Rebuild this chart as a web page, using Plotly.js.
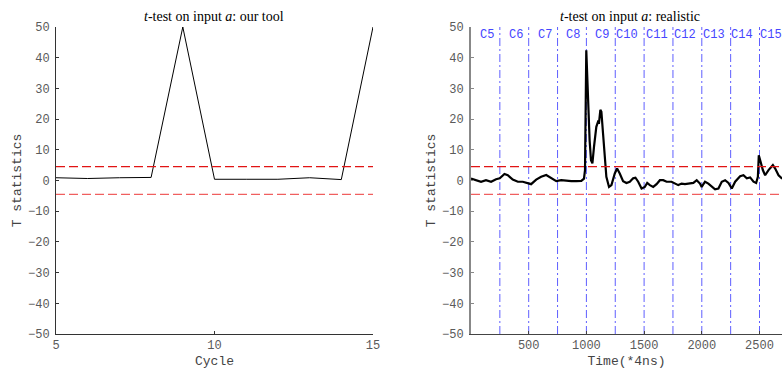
<!DOCTYPE html>
<html>
<head>
<meta charset="utf-8">
<script src="https://cdn.plot.ly/plotly-3.0.1.min.js"></script>
<style>html,body{margin:0;padding:0;background:#fff}#chart{width:782px;height:369px}</style>
</head>
<body>
<div id="chart"></div>
<script>
// ---- data ----
var cycles = [5, 6, 7, 8, 9, 10, 11, 12, 13, 14, 15];
var toolT = [0.9, 0.65, 0.9, 1.0, 50, 0.4, 0.4, 0.4, 0.9, 0.3, 50];

var timeX = [0, 43, 87, 130, 174, 217, 249, 290, 319, 362, 406, 449, 501, 521, 565, 608, 652, 695, 739, 782, 826, 869, 913, 956, 979, 988, 999, 1014, 1028, 1040, 1052, 1066, 1086, 1101, 1110, 1121, 1130, 1144, 1159, 1173, 1196, 1217, 1246, 1266, 1289, 1318, 1347, 1376, 1405, 1425, 1449, 1478, 1506, 1527, 1550, 1579, 1608, 1637, 1666, 1695, 1738, 1767, 1796, 1825, 1854, 1883, 1927, 1956, 1984, 1999, 2028, 2057, 2086, 2115, 2144, 2173, 2202, 2231, 2260, 2289, 2332, 2361, 2390, 2419, 2448, 2471, 2486, 2494, 2506, 2529, 2549, 2578, 2616, 2636, 2665, 2697];
var realT = [0.65, 0.1, -0.4, 0.1, -0.4, 0.4, 0.7, 2.1, 1.7, 0.3, -0.4, -0.4, -0.8, -1.2, 0.3, 1.2, 1.8, 0.9, -0.2, 0.1, -0.1, -0.2, -0.2, -0.1, 0.6, 3.4, 42.4, 26, 13, 6.6, 5.6, 11, 17.5, 19.2, 19, 23, 22.4, 15.4, 7.7, 1.2, -2.1, -1.5, 2.3, 3.9, 2.3, -0.2, -0.8, -0.4, 0.7, 0.9, -0.4, -2.6, -2.1, -0.8, -1.5, -2.1, -1.2, 0.1, 0.1, -0.4, -0.4, -1.0, -1.5, -1.0, -1.2, -1.0, -0.8, 0.1, -1.0, -2.1, -0.4, -1.0, -2.1, -2.9, -2.6, -0.4, 0.1, -0.8, -2.6, -0.4, 1.4, 1.7, 0.7, 1.0, -0.4, -0.8, 1.2, 8.2, 6.6, 3.4, 1.7, 3.4, 5.0, 3.9, 1.7, 0.6];

var thresholds = [4.5, -4.5];
var thresholdColors = ['rgb(225,20,20)', 'rgb(240,95,95)'];
var cycleBounds = [250, 500, 750, 1000, 1250, 1500, 1750, 2000, 2250, 2500];
var cycleLabels = ['C5', 'C6', 'C7', 'C8', 'C9', 'C10', 'C11', 'C12', 'C13', 'C14', 'C15'];
var cycleLabelX = [136, 388, 640, 884, 1133, 1356, 1608, 1857, 2103, 2352, 2599];
var yTicks = [-50, -40, -30, -20, -10, 0, 10, 20, 30, 40, 50];
var xTicksLeft = [5, 10, 15];
var xTicksRight = [500, 1000, 1500, 2000, 2500];

// ---- layout ----
var W = 782, H = 369;
var mono = 'Liberation Mono, Courier New, monospace';
var serif = 'Liberation Serif, DejaVu Serif, serif';
var yDom = [(H - 334) / H, (H - 27) / H];
var xDom1 = [56 / W, 373 / W];
var xDom2 = [471 / W, 1];

var traces = [
  {x: cycles, y: toolT, xaxis: 'x', yaxis: 'y', mode: 'lines', line: {color: '#000', width: 1}, hoverinfo: 'skip'},
  {x: timeX, y: realT, xaxis: 'x2', yaxis: 'y2', mode: 'lines', line: {color: '#000', width: 2.2}, hoverinfo: 'skip'}
];

var shapes = [];
['x', 'x2'].forEach(function (xa, i) {
  thresholds.forEach(function (t, j) {
    shapes.push({type: 'line', xref: xa + ' domain', yref: (i ? 'y2' : 'y'), x0: 0, x1: 1, y0: t, y1: t,
      line: {color: thresholdColors[j], width: 1.2, dash: '9px,4px'}});
  });
});
cycleBounds.forEach(function (b) {
  shapes.push({type: 'line', xref: 'x2', yref: 'y2 domain', x0: b, x1: b, y0: 0, y1: 1, layer: 'below',
    line: {color: 'rgb(95,95,255)', width: 1, dash: '8px,3px,2px,3px'}});
});

var annotations = [
  {xref: 'paper', yref: 'paper', x: (xDom1[0] + xDom1[1]) / 2, y: 1 - 16 / H, xanchor: 'center', yanchor: 'middle',
    text: '<i>t</i>-test on input <i>a</i>: our tool', showarrow: false, font: {family: serif, size: 14, color: '#000'}},
  {xref: 'paper', yref: 'paper', x: 630 / W, y: 1 - 16 / H, xanchor: 'center', yanchor: 'middle',
    text: '<i>t</i>-test on input <i>a</i>: realistic', showarrow: false, font: {family: serif, size: 14, color: '#000'}}
];
cycleLabels.forEach(function (l, i) {
  annotations.push({xref: 'x2', yref: 'y2', x: cycleLabelX[i], y: 47.5, text: l, showarrow: false,
    xanchor: 'center', yanchor: 'middle', font: {family: mono, size: 12, color: 'rgb(70,70,255)'}});
});

function yax(dom, anchor, lineColor, lineWidth) {
  return {domain: dom, anchor: anchor, range: [-50, 50], tickvals: yTicks, ticks: 'inside', ticklen: 3,
    tickcolor: lineColor, showline: true, linecolor: lineColor, linewidth: lineWidth, showgrid: false, zeroline: false,
    ticklabelstandoff: 3, tickfont: {family: mono, size: 12, color: '#5a5a5a'},
    title: {text: 'T statistics', font: {family: mono, size: 13, color: '#444'}, standoff: 3}};
}
function xax(dom, anchor, range, tv, title, lineColor) {
  return {domain: dom, anchor: anchor, range: range, tickvals: tv, ticks: 'inside', ticklen: 3, tickcolor: lineColor,
    showline: true, linecolor: lineColor, linewidth: 1, showgrid: false, zeroline: false,
    tickfont: {family: mono, size: 12, color: '#5a5a5a'},
    title: {text: title, font: {family: mono, size: 13, color: '#444'}, standoff: 6}};
}

var layout = {
  width: W, height: H, margin: {l: 0, r: 0, t: 0, b: 0}, showlegend: false,
  paper_bgcolor: '#fff', plot_bgcolor: '#fff',
  xaxis: xax(xDom1, 'y', [5, 15], xTicksLeft, 'Cycle', '#333'),
  yaxis: yax(yDom, 'x', '#333', 1),
  xaxis2: xax(xDom2, 'y2', [0, 2695], xTicksRight, 'Time(*4ns)', '#444'),
  yaxis2: yax(yDom, 'x2', '#888', 2),
  shapes: shapes, annotations: annotations
};

Plotly.newPlot('chart', traces, layout, {staticPlot: true, displayModeBar: false});
</script>
</body>
</html>
